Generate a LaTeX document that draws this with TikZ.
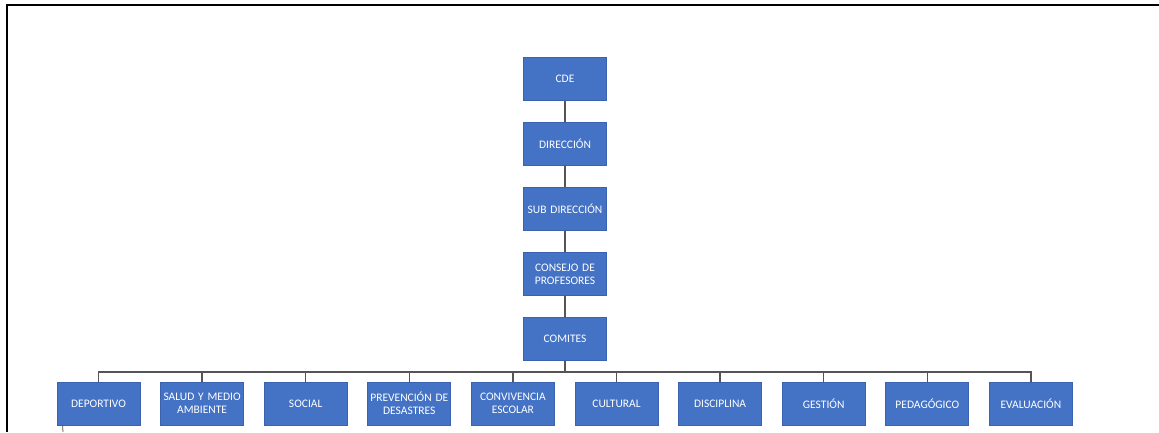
\documentclass[tikz,border=0pt]{standalone}
\usepackage{fontspec}
\setmainfont{Carlito}
\definecolor{boxblue}{HTML}{4472C4}
\definecolor{boxedge}{HTML}{3A62AE}
\definecolor{linegray}{HTML}{555555}
\begin{document}
\begin{tikzpicture}[x=1pt,y=-1pt,
  orgbox/.style={draw=boxedge,line width=0.8pt,fill=boxblue,text=white,
    minimum width=83pt,minimum height=43pt,text width=83pt,inner sep=0pt,align=center,
    font=\fontsize{11.5}{13}\selectfont},
  link/.style={draw=linegray,line width=1.3pt}]
\useasboundingbox (0,0) rectangle (1159,432);
\draw[black,line width=1.8pt] (7,432) -- (7,5) -- (1159,5);
% vertical chain
\node[orgbox] (cde) at (565,79) {CDE};
\node[orgbox] (dir) at (565,144) {DIRECCIÓN};
\node[orgbox] (sub) at (565,209) {SUB DIRECCIÓN};
\node[orgbox] (con) at (565,274) {CONSEJO DE\\PROFESORES};
\node[orgbox] (com) at (565,339) {COMITES};
\draw[link] (cde) -- (dir);
\draw[link] (dir) -- (sub);
\draw[link] (sub) -- (con);
\draw[link] (con) -- (com);
% bottom row
\foreach \n/\t [count=\i from 0] in {dep/DEPORTIVO,sal/{SALUD Y MEDIO\\AMBIENTE},soc/SOCIAL,pre/{PREVENCIÓN DE\\DESASTRES},conv/{CONVIVENCIA\\ESCOLAR},cul/CULTURAL,dis/DISCIPLINA,ges/GESTIÓN,ped/PEDAGÓGICO,eva/EVALUACIÓN}{
  \node[orgbox] (\n) at ({98.5+103.6*\i},403.5) {\t};
  \draw[link] (com.south) -- ++(0,11) -| (\n.north);
}
\coordinate (tail) at (63,432);
\draw[link,line width=0.8pt] (dep.south west) ++(6,0) -- (tail);
\end{tikzpicture}
\end{document}
